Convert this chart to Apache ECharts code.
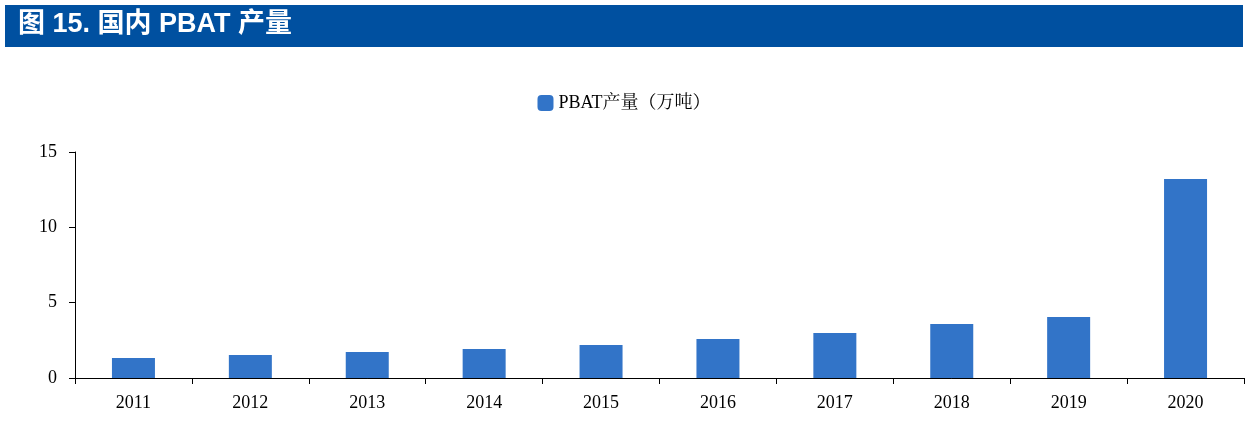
<!DOCTYPE html>
<html>
<head>
<meta charset="utf-8">
<script src="https://cdn.jsdelivr.net/npm/echarts@6/dist/echarts.min.js"></script>
<style>
  html, body { margin: 0; padding: 0; background: #fff; }
  #chart { width: 1248px; height: 429px; }
</style>
</head>
<body>
<div id="chart"></div>
<script>
  // Data
  const years = ['2011', '2012', '2013', '2014', '2015', '2016', '2017', '2018', '2019', '2020'];
  const output = [1.33, 1.53, 1.73, 1.92, 2.19, 2.59, 2.99, 3.58, 4.05, 13.2];
  const seriesName = 'PBAT产量（万吨）';

  const chart = echarts.init(document.getElementById('chart'));
  const option = {
    animation: false,
    graphic: [
      {
        type: 'rect',
        shape: { x: 5, y: 5, width: 1238, height: 42 },
        style: { fill: '#0050A0' }
      },
      {
        type: 'text',
        left: 18,
        top: 11,
        style: {
          text: '图 15. 国内 PBAT 产量',
          fill: '#fff',
          font: 'bold 27px "Liberation Sans", "Noto Sans CJK SC", sans-serif'
        }
      }
    ],
    legend: {
      top: 89,
      left: 'center',
      itemWidth: 16,
      itemHeight: 16,
      itemGap: 4,
      textStyle: {
        fontFamily: '"Liberation Serif", "Noto Serif CJK SC", "Noto Sans CJK SC", serif',
        fontSize: 18,
        color: '#000'
      },
      data: [seriesName]
    },
    grid: { left: 75, right: 4, top: 152, bottom: 51 },
    xAxis: {
      type: 'category',
      data: years,
      axisLine: { lineStyle: { color: '#000' } },
      axisTick: { show: true, length: 6, lineStyle: { color: '#000' } },
      axisLabel: {
        color: '#000',
        fontFamily: '"Liberation Serif", serif',
        fontSize: 18,
        margin: 16
      }
    },
    yAxis: {
      type: 'value',
      min: 0,
      max: 15,
      interval: 5,
      axisLine: { show: true, lineStyle: { color: '#000' } },
      axisTick: { show: true, length: 6, inside: false, lineStyle: { color: '#000' } },
      splitLine: { show: false },
      axisLabel: {
        color: '#000',
        fontFamily: '"Liberation Serif", serif',
        fontSize: 18,
        margin: 18
      }
    },
    series: [
      {
        name: seriesName,
        type: 'bar',
        barWidth: 43,
        data: output,
        itemStyle: { color: '#3274C8' }
      }
    ]
  };
  chart.setOption(option);

  window.addEventListener('resize', function () {
    chart.resize();
  });
</script>
</body>
</html>
